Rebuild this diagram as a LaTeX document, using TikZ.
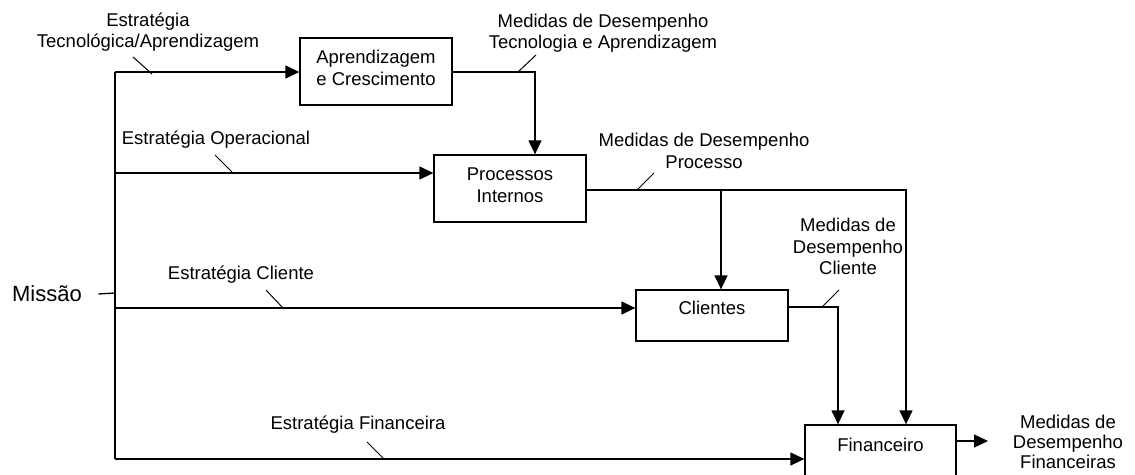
\documentclass[tikz,border=0pt]{standalone}
\usepackage{fontspec}
\setmainfont{Liberation Sans}
\usetikzlibrary{arrows.meta}
\begin{document}
\begin{tikzpicture}[x=1pt,y=-1pt,
  line width=1.3pt,
  lbl/.style={font=\fontsize{18.5}{21.5}\selectfont, align=center, inner sep=0pt},
  box/.style={draw, rectangle, inner sep=0pt},
  arr/.style={-{Triangle[length=14pt,width=13pt]}},
  leader/.style={line width=1pt}]
\useasboundingbox (0,0) rectangle (1135,474);
\clip (0,0) rectangle (1135,474);

% mission label
\node[lbl, font=\fontsize{22}{26}\selectfont] (missao) at (47,294) {Missão};

% perspective boxes
\node[box, minimum width=152pt, minimum height=67pt] (apr) at (376,71.5) {};
\node[lbl] (aprT) at (376,68) {Aprendizagem\\e Crescimento};
\node[box, minimum width=152pt, minimum height=67pt] (proc) at (510,188.5) {};
\node[lbl] (procT) at (510,185) {Processos\\Internos};
\node[box, minimum width=152pt, minimum height=51pt] (cli) at (712,315.5) {};
\node[lbl] (cliT) at (712,308) {Clientes};
\node[box, minimum width=151pt, minimum height=80pt] (fin) at (880.5,465) {};
\node[lbl] (finT) at (880.5,445) {Financeiro};

% trunk from the mission
\coordinate (tTop) at (115,72);
\coordinate (tBot) at (115,459);
\coordinate (tMis) at (115,293);
\coordinate (jOp) at (115,173);
\coordinate (jCli) at (115,308);
\draw (tTop) -- (tBot);
\draw ([xshift=16pt]missao.east) -- (tMis);
\draw[arr] (tTop) -- (tTop -| apr.west);
\draw[arr] (jOp) -- (jOp -| proc.west);
\draw[arr] (jCli) -- (jCli -| cli.west);
\draw[arr] (tBot) -- (tBot -| fin.west);

% performance measures
\coordinate (kApr) at (535,72);
\draw[arr] (kApr -| apr.east) -- (kApr) -- (kApr |- proc.north);
\coordinate (kProc) at (906,190);
\coordinate (kProcB) at (721,190);
\draw[arr] (kProc -| proc.east) -- (kProc) -- (kProc |- fin.north);
\draw[arr] (kProcB) -- (kProcB |- cli.north);
\coordinate (kCli) at (838,307);
\draw[arr] (kCli -| cli.east) -- (kCli) -- (kCli |- fin.north);
\coordinate (kFin) at (988,441);
\draw[arr] (kFin -| fin.east) -- (kFin);

% labels
\node[lbl] (lTec) at (148,32) {Estratégia\\Tecnológica/Aprendizagem};
\node[lbl] (lMedTec) at (603,33) {Medidas de Desempenho\\Tecnologia e Aprendizagem};
\node[lbl] (lOp) at (216,140) {Estratégia Operacional};
\node[lbl] (lMedProc) at (704,151) {Medidas de Desempenho\\Processo};
\node[lbl] (lMedCli) at (848,246.5) {Medidas de\\Desempenho\\Cliente};
\node[lbl] (lCli) at (241,275) {Estratégia Cliente};
\node[lbl] (lFin) at (358,425) {Estratégia Financeira};
\node[lbl, font=\fontsize{18.5}{20}\selectfont] (lMedFin) at (1068,442) {Medidas de\\Desempenho\\Financeiras};

% leader lines from labels to their connectors
\draw[leader] (133,57) -- (152,74);
\draw[leader] (518,72) -- (536,55);
\draw[leader] (215,155) -- (233,173);
\draw[leader] (637,190) -- (654,173);
\draw[leader] (822,307) -- (839,290);
\draw[leader] (266,290) -- (283,308);
\draw[leader] (367,442) -- (384,459);
\end{tikzpicture}
\end{document}
